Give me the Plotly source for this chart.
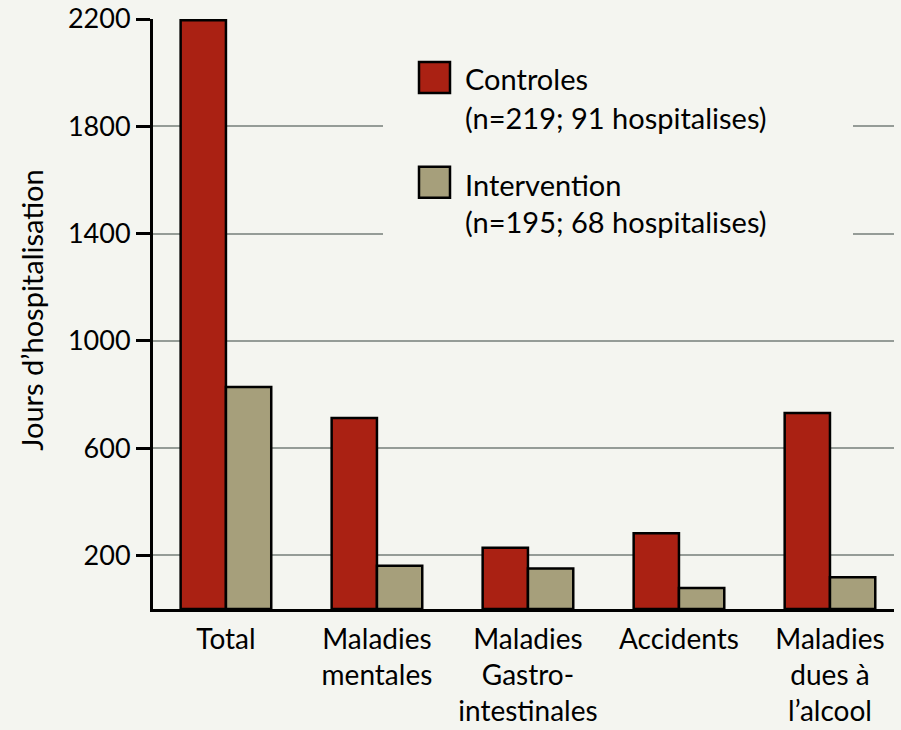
import plotly.graph_objects as go

# Hospitalisation days by cause, control vs intervention group
categories = ["Total", "Maladies<br>mentales", "Maladies<br>Gastro-<br>intestinales",
              "Accidents", "Maladies<br>dues à<br>l’alcool"]
controles = [2195, 712, 228, 282, 731]
intervention = [828, 161, 151, 78, 118]
y_ticks = [200, 600, 1000, 1400, 1800, 2200]

series_names = ["Controles", "Intervention"]
series_notes = ["(n=219; 91 hospitalises)", "(n=195; 68 hospitalises)"]
series_colors = ["#AA2113", "#A69F7B"]

BG = "#F4F5F0"
FONT = "Lato"
W, H = 901, 730
L, R, T, B = 153, 7, 19, 120.5

x_idx = list(range(len(categories)))

fig = go.Figure()
for name, vals, col in zip(series_names, [controles, intervention], series_colors):
    fig.add_trace(go.Bar(
        x=x_idx, y=vals, name=name,
        marker=dict(color=col, line=dict(color="#000000", width=2.5)),
        showlegend=False,
    ))

plot_w = W - L - R
plot_h = H - T - B


def px_x(px):
    return (px - L) / plot_w


def px_y(py):
    return (H - B - py) / plot_h


shapes = []
annotations = []

# Legend panel covering the gridlines behind it
shapes.append(dict(type="rect", xref="paper", yref="paper", layer="above",
                   x0=px_x(383), x1=px_x(853), y0=px_y(262), y1=px_y(40),
                   fillcolor=BG, line=dict(width=0)))

box_tops = [62, 167]
label_y = [79, 185]
note_y = [118, 222]
for i in range(2):
    shapes.append(dict(type="rect", xref="paper", yref="paper", layer="above",
                       x0=px_x(419), x1=px_x(450),
                       y0=px_y(box_tops[i] + 31), y1=px_y(box_tops[i]),
                       fillcolor=series_colors[i], line=dict(color="#000000", width=2.5)))
    annotations.append(dict(xref="paper", yref="paper", x=px_x(463), y=px_y(label_y[i]),
                            xanchor="left", yanchor="middle", showarrow=False,
                            text=series_names[i],
                            font=dict(family=FONT, size=29, color="#000000")))
    annotations.append(dict(xref="paper", yref="paper", x=px_x(463), y=px_y(note_y[i]),
                            xanchor="left", yanchor="middle", showarrow=False,
                            text=series_notes[i],
                            font=dict(family=FONT, size=29, color="#000000")))

# Y axis title
annotations.append(dict(xref="paper", yref="paper", x=px_x(32), y=px_y(310),
                        xanchor="center", yanchor="middle", showarrow=False,
                        textangle=-90, text="Jours d’hospitalisation",
                        font=dict(family=FONT, size=29, color="#000000")))

fig.update_layout(
    width=W, height=H,
    margin=dict(l=L, r=R, t=T, b=B, pad=0, autoexpand=False),
    paper_bgcolor=BG, plot_bgcolor=BG,
    barmode="group", bargap=0.4, bargroupgap=0,
    font=dict(family=FONT, size=29, color="#000000"),
    shapes=shapes, annotations=annotations,
    xaxis=dict(
        range=[-0.483, 4.424], tickvals=x_idx, ticktext=categories,
        showline=True, linecolor="#000000", linewidth=3,
        showgrid=False, zeroline=False, ticks="",
        ticklabelstandoff=3, automargin=False,
        tickfont=dict(family=FONT, size=28, color="#000000"),
        fixedrange=True,
    ),
    yaxis=dict(
        range=[0, 2200], tickvals=y_ticks,
        showline=True, linecolor="#000000", linewidth=3,
        ticks="outside", ticklen=14, tickwidth=3, tickcolor="#000000",
        showgrid=True, gridcolor="#959C97", gridwidth=2,
        zeroline=False, automargin=False,
        tickfont=dict(family=FONT, size=27, color="#000000"),
        fixedrange=True,
    ),
)

fig.write_html("out.html")
